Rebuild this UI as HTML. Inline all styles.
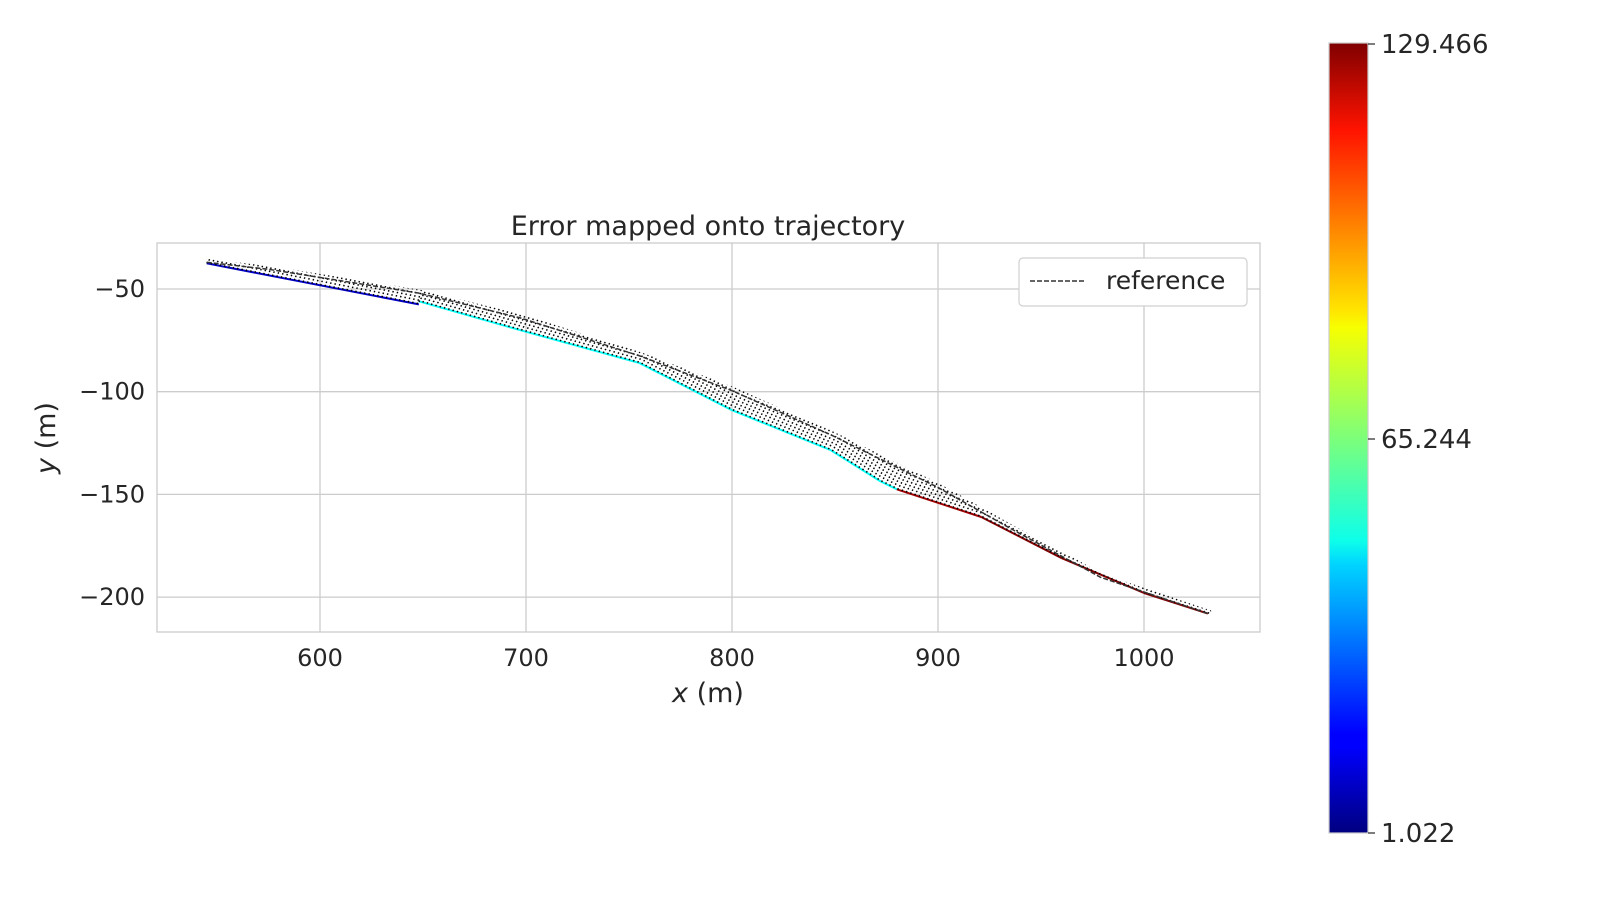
<!DOCTYPE html>
<html><head><meta charset="utf-8"><style>
body{margin:0;background:#fff;font-family:"Liberation Sans","DejaVu Sans",sans-serif;}
</style></head><body>
<svg id="c" width="1600" height="900" xmlns="http://www.w3.org/2000/svg" font-family="DejaVu Sans, Liberation Sans, sans-serif">
<defs><linearGradient id="jet" x1="0" y1="1" x2="0" y2="0">
<stop offset="0" stop-color="#000080"/><stop offset="0.11" stop-color="#0000ff"/><stop offset="0.125" stop-color="#0000ff"/><stop offset="0.34" stop-color="#00d4ff"/><stop offset="0.37" stop-color="#0dffea"/><stop offset="0.5" stop-color="#7dff7a"/><stop offset="0.64" stop-color="#f7ff00"/><stop offset="0.66" stop-color="#ffe600"/><stop offset="0.89" stop-color="#ff1300"/><stop offset="1" stop-color="#800000"/></linearGradient></defs>
<g id="plot"></g>
</svg>
<script>
const xTicks=[600,700,800,900,1000];
const yTicks=[-50,-100,-150,-200];
const refX=[545,575,648,697,755,800,848,900,935,979,1031];
const refY=[-37,-40.4,-52,-64,-82.5,-99.5,-121,-146.6,-166.5,-190.4,-208];
const estX=[545,648,648,697,755,800,848,872,880,921,960,1000,1031];
const estY=[-37.5,-57.5,-56,-70,-86,-109,-128.5,-143.6,-147.5,-161,-181,-198,-208];
const estErr=[10,10,50,50,50,50,50,50,125,129,129,129,129];
const cbTicks=["129.466","65.244","1.022"];
const cbMin=1.022,cbMax=129.466;
const NS="http://www.w3.org/2000/svg";
const L=157,R=1260,T=243,B=632;
const X=v=>320+(v-600)*2.06;
const Y=v=>289-(v+50)*2.054;
const g=document.getElementById('plot');
function mk(t,a,p){const e=document.createElementNS(NS,t);for(const k in a)e.setAttribute(k,a[k]);(p||g).appendChild(e);return e;}
function jet(v){const t=(v-cbMin)/(cbMax-cbMin);const r=Math.min(Math.max(Math.min(4*t-1.5,-4*t+4.5),0),1);const gg=Math.min(Math.max(Math.min(4*t-0.5,-4*t+3.5),0),1);const b=Math.min(Math.max(Math.min(4*t+0.5,-4*t+2.5),0),1);return `rgb(${r*255|0},${gg*255|0},${b*255|0})`;}
xTicks.forEach(v=>{let l=mk('line',{x1:X(v),x2:X(v),y1:T,y2:B,stroke:'#cccccc','stroke-width':1.3});
let t=mk('text',{x:X(v),y:666,'font-size':24,fill:'#262626','text-anchor':'middle'});t.textContent=v;});
yTicks.forEach(v=>{let l=mk('line',{x1:L,x2:R,y1:Y(v),y2:Y(v),stroke:'#cccccc','stroke-width':1.3});
let t=mk('text',{x:145,y:Y(v)+8,'font-size':24,fill:'#262626','text-anchor':'end'});t.textContent='\u2212'+Math.abs(v);});
let fr=mk('rect',{x:L,y:T,width:R-L,height:B-T,fill:'none',stroke:'#cccccc','stroke-width':1.3});

function samp(xs,ys,f){const d=[0];for(let i=1;i<xs.length;i++)d.push(d[i-1]+Math.hypot(X(xs[i])-X(xs[i-1]),Y(ys[i])-Y(ys[i-1])));const s=f*d[d.length-1];let i=1;while(i<d.length-1&&d[i]<s)i++;const u=(s-d[i-1])/((d[i]-d[i-1])||1);return [X(xs[i-1])+u*(X(xs[i])-X(xs[i-1])),Y(ys[i-1])+u*(Y(ys[i])-Y(ys[i-1]))];}
for(let i=0;i<estX.length-1;i++){if(i==1)continue;let l=mk('line',{x1:X(estX[i]),y1:Y(estY[i]),x2:X(estX[i+1]),y2:Y(estY[i+1]),stroke:jet(estErr[i]),'stroke-width':2});}
const cg=mk('g',{stroke:'#000','stroke-width':1.4,'stroke-dasharray':'1.6,1.8'});

for(let k=0;k<=240;k++){const f=k/240;const a=samp(estX,estY,f),b=samp(refX,refY,f);mk('line',{x1:a[0],y1:a[1],x2:b[0]+3,y2:b[1]-3},cg);}
let rp=mk('polyline',{points:refX.map((v,i)=>X(v)+','+Y(refY[i])).join(' '),fill:'none',stroke:'#333','stroke-width':1.5,'stroke-dasharray':'5,2'});

let tt=mk('text',{x:708,y:235,'font-size':27,fill:'#262626','text-anchor':'middle'});tt.textContent='Error mapped onto trajectory';
let xl=mk('text',{x:708,y:702,'font-size':27,fill:'#262626','text-anchor':'middle'});xl.innerHTML='<tspan font-style="italic">x</tspan> (m)';
let yl=mk('text',{x:0,y:0,'font-size':27,fill:'#262626','text-anchor':'middle',transform:'translate(55,438) rotate(-90)'});yl.innerHTML='<tspan font-style="italic">y</tspan> (m)';
const lg=mk('g',{});
mk('rect',{x:1019,y:258,width:228,height:48,rx:4,fill:'#fff',stroke:'#d0d0d0','stroke-width':1.2},lg);
mk('line',{x1:1030,x2:1084,y1:281,y2:281,stroke:'#333','stroke-width':1.5,'stroke-dasharray':'5,2'},lg);
let lt=mk('text',{x:1106,y:289,'font-size':25,fill:'#262626'},lg);lt.textContent='reference';
let cb=mk('rect',{x:1329,y:43,width:39,height:790,fill:'url(#jet)',stroke:'#cccccc','stroke-width':1.2});

const cby=[44,439,833];
cbTicks.forEach((s,i)=>{mk('line',{x1:1368,x2:1375,y1:cby[i],y2:cby[i],stroke:'#262626','stroke-width':1.2});let t=mk('text',{x:1381,y:cby[i]+9,'font-size':26,fill:'#262626'});t.textContent=s;});
</script>
</body></html>
